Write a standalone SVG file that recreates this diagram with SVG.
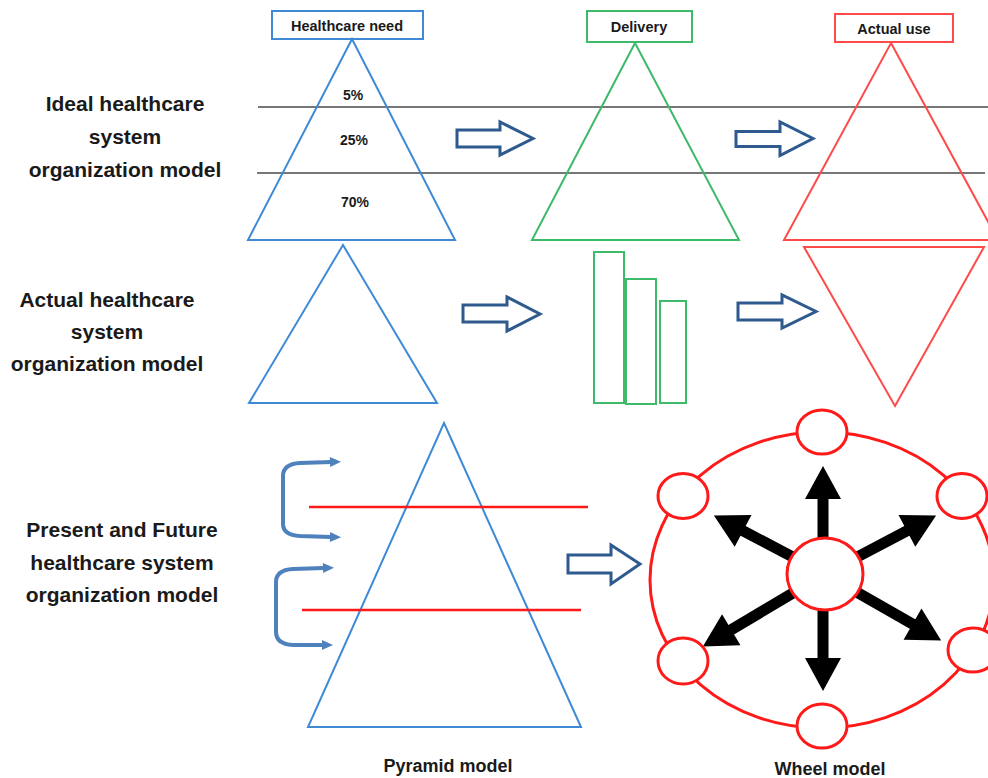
<svg xmlns="http://www.w3.org/2000/svg" width="988" height="778" viewBox="0 0 988 778">
<style>
.lbl{font-family:"Liberation Sans",Arial,sans-serif;font-weight:bold;fill:#1a1a1a;text-anchor:middle}
.side{font-size:21px}
.box{font-size:14.5px}
.pct{font-size:14px}
.cap{font-size:18px}
.blue{fill:none;stroke:#3f8ad6;stroke-width:2}
.green{fill:none;stroke:#3dba6a;stroke-width:2}
.red{fill:none;stroke:#ff4a4a;stroke-width:2}
.boxb{fill:#fff;stroke:#3f8ad6;stroke-width:2}
.boxg{fill:#fff;stroke:#3dba6a;stroke-width:2}
.boxr{fill:#fff;stroke:#ff4a4a;stroke-width:2}
.hline{stroke:#4a4a4a;stroke-width:1.6}
.rline{stroke:#ff1a1a;stroke-width:2.5}
.hollow{fill:#fff;stroke:#2e5a8e;stroke-width:3;stroke-linejoin:miter}
.brk{fill:none;stroke:#4f81bd;stroke-width:4;stroke-linecap:round;marker-start:url(#bh);marker-end:url(#bh)}
.spoke{stroke:#000;stroke-width:11;marker-end:url(#ah)}
.node{fill:#fff;stroke:#ff1a1a;stroke-width:3}
</style>
<defs>
<marker id="ah" markerUnits="userSpaceOnUse" markerWidth="34" markerHeight="36" refX="1" refY="18" orient="auto" overflow="visible">
<path d="M0,0 L33,18 L0,36 z" fill="#000"/>
</marker>
<marker id="bh" markerUnits="userSpaceOnUse" markerWidth="12" markerHeight="10" refX="1" refY="5" orient="auto-start-reverse" overflow="visible">
<path d="M0,0 L11,5 L0,10 z" fill="#4f81bd"/>
</marker>
</defs>
<rect width="988" height="778" fill="#fff"/>

<g id="row-labels">
<text class="lbl side" x="125" y="111">Ideal healthcare</text>
<text class="lbl side" x="125" y="144">system</text>
<text class="lbl side" x="125" y="177">organization model</text>
<text class="lbl side" x="107" y="307">Actual healthcare</text>
<text class="lbl side" x="107" y="339">system</text>
<text class="lbl side" x="107" y="371">organization model</text>
<text class="lbl side" x="122" y="537">Present and Future</text>
<text class="lbl side" x="122" y="570">healthcare system</text>
<text class="lbl side" x="122" y="602">organization model</text>
</g>

<g id="level-lines">
<line class="hline" x1="258" y1="107" x2="988" y2="107"/>
<line class="hline" x1="257" y1="173" x2="985" y2="173"/>
</g>

<g id="need-ideal">
<rect class="boxb" x="272" y="11" width="151" height="28"/>
<text class="lbl box" x="347" y="31">Healthcare need</text>
<polygon class="blue" points="352,39 455,240 248,240"/>
<text class="lbl pct" x="353" y="100">5%</text>
<text class="lbl pct" x="354" y="145">25%</text>
<text class="lbl pct" x="355" y="207">70%</text>
</g>

<g id="delivery-ideal">
<rect class="boxg" x="587" y="11" width="105" height="31"/>
<text class="lbl box" x="639" y="32">Delivery</text>
<polygon class="green" points="635,43 739,240 532,240"/>
</g>

<g id="use-ideal">
<rect class="boxr" x="835" y="14" width="118" height="28"/>
<text class="lbl box" x="894" y="34">Actual use</text>
<polygon class="red" points="891,43 998,240 784,240"/>
</g>

<g id="need-actual">
<polygon class="blue" points="343,245 437,403 249,403"/>
</g>

<g id="delivery-actual">
<rect class="green" x="594" y="252" width="30" height="151"/>
<rect class="green" x="626" y="279" width="30" height="125"/>
<rect class="green" x="660" y="301" width="26" height="102"/>
</g>

<g id="use-actual">
<polygon class="red" points="804,247 984,247 895,406"/>
</g>

<g id="pyramid-model">
<polygon class="blue" points="444,423 581,727 308,727"/>
<line class="rline" x1="309" y1="507" x2="588" y2="507"/>
<line class="rline" x1="302" y1="610" x2="581" y2="610"/>
<text class="lbl cap" x="448" y="772">Pyramid model</text>
</g>

<g id="connectors">
<polygon class="hollow" points="457,130 500,130 500,122 533,138.5 500,155 500,147 457,147"/>
<polygon class="hollow" points="736,131.5 780,131.5 780,122 813,138.5 780,155.5 780,146.5 736,146.5"/>
<polygon class="hollow" points="463,305 507,305 507,297 540,314 507,331 507,322 463,322"/>
<polygon class="hollow" points="738,303 782,303 782,295 816,311.5 782,328 782,320 738,320"/>
<polygon class="hollow" points="568,555 611,555 611,545 640,564 611,584 611,573 568,573"/>
<path class="brk" d="M331,462 L300,463 Q283,464 283,476 L283,524 Q283,535 300,536 L331,537"/>
<path class="brk" d="M324,568 L293,569 Q276,570 276,582 L276,632 Q276,644 293,645 L323,645"/>
<line class="spoke" x1="823" y1="574" x2="823" y2="498"/>
<line class="spoke" x1="823" y1="574" x2="823" y2="659"/>
<line class="spoke" x1="825" y1="574" x2="742.2" y2="530.4"/>
<line class="spoke" x1="825" y1="574" x2="907.8" y2="530.4"/>
<line class="spoke" x1="825" y1="574" x2="730.4" y2="630.2"/>
<line class="spoke" x1="825" y1="574" x2="913.4" y2="624.6"/>
</g>

<g id="wheel-model">
<ellipse cx="822" cy="580" rx="172" ry="148" fill="none" stroke="#ff1a1a" stroke-width="3"/>
<g id="wheel-node-top"><ellipse class="node" cx="822" cy="432" rx="25" ry="22"/></g>
<g id="wheel-node-upper-left"><ellipse class="node" cx="683" cy="496" rx="25" ry="22.5"/></g>
<g id="wheel-node-upper-right"><ellipse class="node" cx="962" cy="496" rx="25" ry="22.5"/></g>
<g id="wheel-node-center"><ellipse class="node" cx="825" cy="574" rx="38" ry="36"/></g>
<g id="wheel-node-lower-left"><ellipse class="node" cx="683" cy="661" rx="25" ry="23"/></g>
<g id="wheel-node-lower-right"><ellipse class="node" cx="973" cy="650" rx="25" ry="22"/></g>
<g id="wheel-node-bottom"><ellipse class="node" cx="822" cy="726" rx="25" ry="22"/></g>
<text class="lbl cap" x="830" y="775">Wheel model</text>
</g>
</svg>
